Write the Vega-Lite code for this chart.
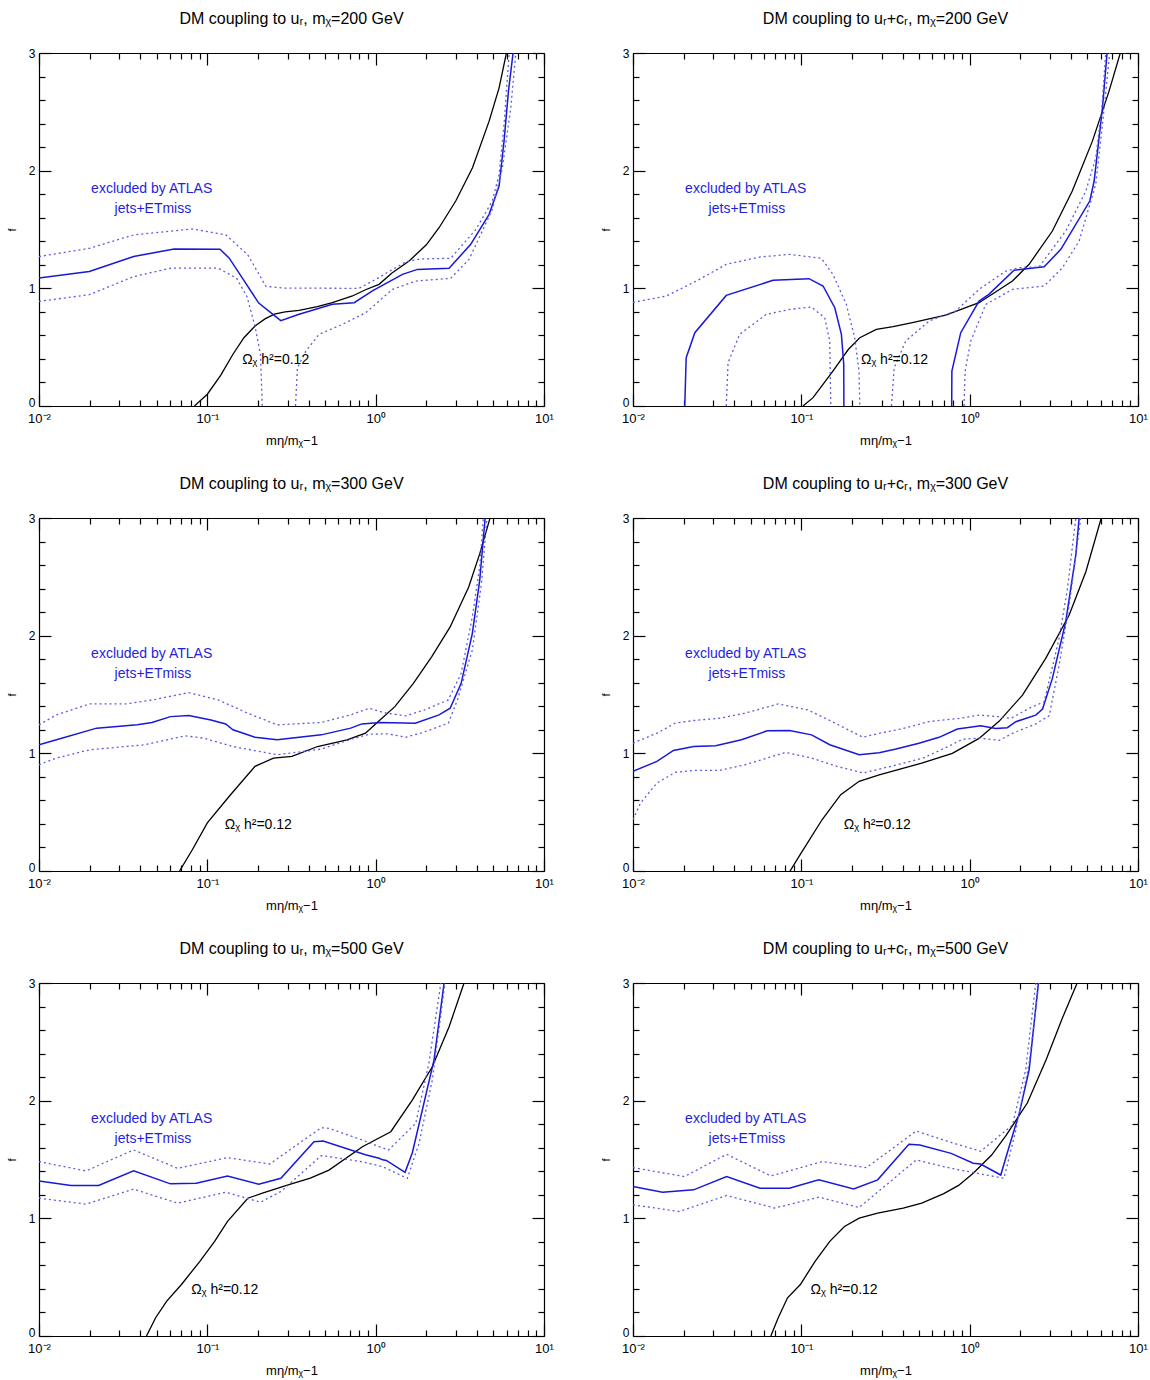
{
"$schema":"https://vega.github.io/schema/vega-lite/v6.json",
"background":"white",
"padding":{"left":6,"top":11,"right":5,"bottom":5},
"config":{"view":{"stroke":null},"font":"Liberation Sans",
"axis":{"grid":false,"tickColor":"#000","domainColor":"#000","labelColor":"#000","titleColor":"#000","tickWidth":1.2,"domainWidth":1.2,"labelFlush":false,"labelOverlap":false,"labelBound":false,"titleFontWeight":"normal","labelFont":"Liberation Sans","titleFont":"Liberation Sans"},
"title":{"fontSize":16,"fontWeight":"normal","font":"Liberation Sans","offset":20,"color":"#000","anchor":"middle"}},
"datasets":{
"t":[
{"k":"a","t":"excluded by ATLAS","x":0.0467,"f":1.843},
{"k":"a","t":"jets+ETmiss","x":0.0475,"f":1.674},
{"k":"w","p":1,"t":"Ωᵪ h²=0.12","x":0.161,"f":0.387},
{"k":"w","p":2,"t":"Ωᵪ h²=0.12","x":0.226,"f":0.387},
{"k":"w","p":3,"t":"Ωᵪ h²=0.12","x":0.127,"f":0.387},
{"k":"w","p":4,"t":"Ωᵪ h²=0.12","x":0.1786,"f":0.387},
{"k":"w","p":5,"t":"Ωᵪ h²=0.12","x":0.0803,"f":0.387},
{"k":"w","p":6,"t":"Ωᵪ h²=0.12","x":0.1135,"f":0.387}
],
"c":[
{"p":1,"k":"r","c":"r","x":0.0838,"f":0},{"p":1,"k":"r","c":"r","x":0.1,"f":0.1},{"p":1,"k":"r","c":"r","x":0.12,"f":0.26},{"p":1,"k":"r","c":"r","x":0.142,"f":0.44},{"p":1,"k":"r","c":"r","x":0.165,"f":0.58},{"p":1,"k":"r","c":"r","x":0.192,"f":0.68},{"p":1,"k":"r","c":"r","x":0.22,"f":0.74},{"p":1,"k":"r","c":"r","x":0.25,"f":0.78},{"p":1,"k":"r","c":"r","x":0.29,"f":0.8},{"p":1,"k":"r","c":"r","x":0.351,"f":0.813},{"p":1,"k":"r","c":"r","x":0.45,"f":0.845},{"p":1,"k":"r","c":"r","x":0.553,"f":0.878},{"p":1,"k":"r","c":"r","x":0.728,"f":0.935},{"p":1,"k":"r","c":"r","x":0.87,"f":0.988},{"p":1,"k":"r","c":"r","x":1.047,"f":1.034},{"p":1,"k":"r","c":"r","x":1.25,"f":1.13},{"p":1,"k":"r","c":"r","x":1.58,"f":1.232},{"p":1,"k":"r","c":"r","x":2.0,"f":1.37},{"p":1,"k":"r","c":"r","x":2.38,"f":1.515},{"p":1,"k":"r","c":"r","x":2.99,"f":1.742},{"p":1,"k":"r","c":"r","x":3.76,"f":2.025},{"p":1,"k":"r","c":"r","x":4.72,"f":2.421},{"p":1,"k":"r","c":"r","x":5.41,"f":2.704},{"p":1,"k":"r","c":"r","x":5.98,"f":3.0},
{"p":1,"k":"o","c":"o","x":0.01,"f":1.087},{"p":1,"k":"o","c":"o","x":0.0199,"f":1.143},{"p":1,"k":"o","c":"o","x":0.0365,"f":1.27},{"p":1,"k":"o","c":"o","x":0.0635,"f":1.335},{"p":1,"k":"o","c":"o","x":0.119,"f":1.332},{"p":1,"k":"o","c":"o","x":0.135,"f":1.256},{"p":1,"k":"o","c":"o","x":0.202,"f":0.875},{"p":1,"k":"o","c":"o","x":0.273,"f":0.725},{"p":1,"k":"o","c":"o","x":0.351,"f":0.779},{"p":1,"k":"o","c":"o","x":0.553,"f":0.864},{"p":1,"k":"o","c":"o","x":0.745,"f":0.878},{"p":1,"k":"o","c":"o","x":0.962,"f":0.98},{"p":1,"k":"o","c":"o","x":1.175,"f":1.048},{"p":1,"k":"o","c":"o","x":1.443,"f":1.119},{"p":1,"k":"o","c":"o","x":1.77,"f":1.161},{"p":1,"k":"o","c":"o","x":2.73,"f":1.17},{"p":1,"k":"o","c":"o","x":3.67,"f":1.374},{"p":1,"k":"o","c":"o","x":4.72,"f":1.629},{"p":1,"k":"o","c":"o","x":5.41,"f":1.869},{"p":1,"k":"o","c":"o","x":5.79,"f":2.251},{"p":1,"k":"o","c":"o","x":6.15,"f":2.676},{"p":1,"k":"o","c":"o","x":6.55,"f":3.0},
{"p":1,"k":"b","c":"u","x":0.01,"f":1.27},{"p":1,"k":"b","c":"u","x":0.0199,"f":1.34},{"p":1,"k":"b","c":"u","x":0.0365,"f":1.454},{"p":1,"k":"b","c":"u","x":0.0817,"f":1.504},{"p":1,"k":"b","c":"u","x":0.129,"f":1.454},{"p":1,"k":"b","c":"u","x":0.174,"f":1.284},{"p":1,"k":"b","c":"u","x":0.223,"f":1.016},{"p":1,"k":"b","c":"u","x":0.288,"f":1.002},{"p":1,"k":"b","c":"u","x":0.796,"f":1.0},{"p":1,"k":"b","c":"u","x":1.0,"f":1.076},{"p":1,"k":"b","c":"u","x":1.51,"f":1.226},{"p":1,"k":"b","c":"u","x":1.85,"f":1.25},{"p":1,"k":"b","c":"u","x":2.79,"f":1.255},{"p":1,"k":"b","c":"u","x":3.94,"f":1.501},{"p":1,"k":"b","c":"u","x":4.93,"f":1.742},{"p":1,"k":"b","c":"u","x":5.41,"f":1.968},{"p":1,"k":"b","c":"u","x":5.79,"f":2.393},{"p":1,"k":"b","c":"u","x":6.21,"f":3.0},
{"p":1,"k":"b","c":"l1","x":0.01,"f":0.889},{"p":1,"k":"b","c":"l1","x":0.0199,"f":0.946},{"p":1,"k":"b","c":"l1","x":0.0365,"f":1.1},{"p":1,"k":"b","c":"l1","x":0.0604,"f":1.171},{"p":1,"k":"b","c":"l1","x":0.116,"f":1.171},{"p":1,"k":"b","c":"l1","x":0.149,"f":1.087},{"p":1,"k":"b","c":"l1","x":0.172,"f":0.93},{"p":1,"k":"b","c":"l1","x":0.192,"f":0.677},{"p":1,"k":"b","c":"l1","x":0.207,"f":0.4375},{"p":1,"k":"b","c":"l1","x":0.212,"f":0},
{"p":1,"k":"b","c":"l2","x":0.334,"f":0},{"p":1,"k":"b","c":"l2","x":0.343,"f":0.325},{"p":1,"k":"b","c":"l2","x":0.385,"f":0.467},{"p":1,"k":"b","c":"l2","x":0.4615,"f":0.609},{"p":1,"k":"b","c":"l2","x":0.634,"f":0.694},{"p":1,"k":"b","c":"l2","x":0.873,"f":0.793},{"p":1,"k":"b","c":"l2","x":1.257,"f":0.991},{"p":1,"k":"b","c":"l2","x":1.73,"f":1.062},{"p":1,"k":"b","c":"l2","x":2.79,"f":1.085},{"p":1,"k":"b","c":"l2","x":3.59,"f":1.246},{"p":1,"k":"b","c":"l2","x":4.93,"f":1.671},{"p":1,"k":"b","c":"l2","x":5.66,"f":2.025},{"p":1,"k":"b","c":"l2","x":6.35,"f":2.534},{"p":1,"k":"b","c":"l2","x":6.8,"f":3.0},

{"p":2,"k":"r","c":"r","x":0.1023,"f":0},{"p":2,"k":"r","c":"r","x":0.1174,"f":0.071},{"p":2,"k":"r","c":"r","x":0.154,"f":0.297},{"p":2,"k":"r","c":"r","x":0.19,"f":0.48},{"p":2,"k":"r","c":"r","x":0.2225,"f":0.58},{"p":2,"k":"r","c":"r","x":0.279,"f":0.651},{"p":2,"k":"r","c":"r","x":0.351,"f":0.674},{"p":2,"k":"r","c":"r","x":0.457,"f":0.708},{"p":2,"k":"r","c":"r","x":0.721,"f":0.773},{"p":2,"k":"r","c":"r","x":1.137,"f":0.878},{"p":2,"k":"r","c":"r","x":1.795,"f":1.062},{"p":2,"k":"r","c":"r","x":2.255,"f":1.204},{"p":2,"k":"r","c":"r","x":3.1,"f":1.487},{"p":2,"k":"r","c":"r","x":4.07,"f":1.827},{"p":2,"k":"r","c":"r","x":5.36,"f":2.251},{"p":2,"k":"r","c":"r","x":6.73,"f":2.676},{"p":2,"k":"r","c":"r","x":7.85,"f":3.0},
{"p":2,"k":"o","c":"o1","x":0.0203,"f":0},{"p":2,"k":"o","c":"o1","x":0.0207,"f":0.41},{"p":2,"k":"o","c":"o1","x":0.0233,"f":0.623},{"p":2,"k":"o","c":"o1","x":0.0358,"f":0.94},{"p":2,"k":"o","c":"o1","x":0.0679,"f":1.068},{"p":2,"k":"o","c":"o1","x":0.111,"f":1.082},{"p":2,"k":"o","c":"o1","x":0.1346,"f":1.02},{"p":2,"k":"o","c":"o1","x":0.158,"f":0.835},{"p":2,"k":"o","c":"o1","x":0.173,"f":0.609},{"p":2,"k":"o","c":"o1","x":0.1786,"f":0.354},{"p":2,"k":"o","c":"o1","x":0.179,"f":0},
{"p":2,"k":"o","c":"o2","x":0.782,"f":0},{"p":2,"k":"o","c":"o2","x":0.784,"f":0.297},{"p":2,"k":"o","c":"o2","x":0.885,"f":0.623},{"p":2,"k":"o","c":"o2","x":1.137,"f":0.892},{"p":2,"k":"o","c":"o2","x":1.3,"f":0.949},{"p":2,"k":"o","c":"o2","x":1.835,"f":1.153},{"p":2,"k":"o","c":"o2","x":2.77,"f":1.184},{"p":2,"k":"o","c":"o2","x":3.48,"f":1.331},{"p":2,"k":"o","c":"o2","x":5.17,"f":1.742},{"p":2,"k":"o","c":"o2","x":5.49,"f":1.912},{"p":2,"k":"o","c":"o2","x":6.15,"f":2.535},{"p":2,"k":"o","c":"o2","x":6.55,"f":3.0},
{"p":2,"k":"b","c":"u1","x":0.01,"f":0.88},{"p":2,"k":"b","c":"u1","x":0.0158,"f":0.935},{"p":2,"k":"b","c":"u1","x":0.0238,"f":1.062},{"p":2,"k":"b","c":"u1","x":0.0358,"f":1.204},{"p":2,"k":"b","c":"u1","x":0.0566,"f":1.266},{"p":2,"k":"b","c":"u1","x":0.0853,"f":1.289},{"p":2,"k":"b","c":"u1","x":0.1315,"f":1.255},{"p":2,"k":"b","c":"u1","x":0.154,"f":1.119},{"p":2,"k":"b","c":"u1","x":0.185,"f":0.864},{"p":2,"k":"b","c":"u1","x":0.2075,"f":0.58},{"p":2,"k":"b","c":"u1","x":0.22,"f":0.297},{"p":2,"k":"b","c":"u1","x":0.2225,"f":0},
{"p":2,"k":"b","c":"l1","x":0.0358,"f":0},{"p":2,"k":"b","c":"l1","x":0.0367,"f":0.368},{"p":2,"k":"b","c":"l1","x":0.043,"f":0.609},{"p":2,"k":"b","c":"l1","x":0.062,"f":0.779},{"p":2,"k":"b","c":"l1","x":0.0853,"f":0.821},{"p":2,"k":"b","c":"l1","x":0.1146,"f":0.841},{"p":2,"k":"b","c":"l1","x":0.1377,"f":0.75},{"p":2,"k":"b","c":"l1","x":0.1475,"f":0.552},{"p":2,"k":"b","c":"l1","x":0.1496,"f":0},
{"p":2,"k":"b","c":"u2","x":0.343,"f":0},{"p":2,"k":"b","c":"u2","x":0.356,"f":0.326},{"p":2,"k":"b","c":"u2","x":0.417,"f":0.552},{"p":2,"k":"b","c":"u2","x":0.574,"f":0.722},{"p":2,"k":"b","c":"u2","x":0.826,"f":0.807},{"p":2,"k":"b","c":"u2","x":1.137,"f":0.991},{"p":2,"k":"b","c":"u2","x":1.64,"f":1.147},{"p":2,"k":"b","c":"u2","x":2.06,"f":1.181},{"p":2,"k":"b","c":"u2","x":2.58,"f":1.181},{"p":2,"k":"b","c":"u2","x":3.72,"f":1.487},{"p":2,"k":"b","c":"u2","x":4.9,"f":1.827},{"p":2,"k":"b","c":"u2","x":5.61,"f":2.11},{"p":2,"k":"b","c":"u2","x":6.1,"f":2.53},{"p":2,"k":"b","c":"u2","x":6.43,"f":3.0},
{"p":2,"k":"b","c":"l2","x":0.926,"f":0},{"p":2,"k":"b","c":"l2","x":0.94,"f":0.297},{"p":2,"k":"b","c":"l2","x":1.015,"f":0.552},{"p":2,"k":"b","c":"l2","x":1.247,"f":0.864},{"p":2,"k":"b","c":"l2","x":1.795,"f":0.991},{"p":2,"k":"b","c":"l2","x":2.77,"f":1.02},{"p":2,"k":"b","c":"l2","x":3.56,"f":1.175},{"p":2,"k":"b","c":"l2","x":4.47,"f":1.402},{"p":2,"k":"b","c":"l2","x":5.61,"f":1.884},{"p":2,"k":"b","c":"l2","x":6.15,"f":2.393},{"p":2,"k":"b","c":"l2","x":6.79,"f":3.0},

{"p":3,"k":"r","c":"r","x":0.0684,"f":0},{"p":3,"k":"r","c":"r","x":0.0816,"f":0.183},{"p":3,"k":"r","c":"r","x":0.1,"f":0.409},{"p":3,"k":"r","c":"r","x":0.135,"f":0.635},{"p":3,"k":"r","c":"r","x":0.192,"f":0.889},{"p":3,"k":"r","c":"r","x":0.247,"f":0.96},{"p":3,"k":"r","c":"r","x":0.318,"f":0.974},{"p":3,"k":"r","c":"r","x":0.452,"f":1.058},{"p":3,"k":"r","c":"r","x":0.676,"f":1.115},{"p":3,"k":"r","c":"r","x":0.87,"f":1.171},{"p":3,"k":"r","c":"r","x":1.01,"f":1.256},{"p":3,"k":"r","c":"r","x":1.3,"f":1.397},{"p":3,"k":"r","c":"r","x":1.675,"f":1.595},{"p":3,"k":"r","c":"r","x":2.15,"f":1.82},{"p":3,"k":"r","c":"r","x":2.77,"f":2.074},{"p":3,"k":"r","c":"r","x":3.57,"f":2.413},{"p":3,"k":"r","c":"r","x":4.15,"f":2.695},{"p":3,"k":"r","c":"r","x":4.78,"f":3.0},
{"p":3,"k":"o","c":"o","x":0.01,"f":1.073},{"p":3,"k":"o","c":"o","x":0.0127,"f":1.115},{"p":3,"k":"o","c":"o","x":0.022,"f":1.214},{"p":3,"k":"o","c":"o","x":0.0384,"f":1.242},{"p":3,"k":"o","c":"o","x":0.0469,"f":1.262},{"p":3,"k":"o","c":"o","x":0.0604,"f":1.312},{"p":3,"k":"o","c":"o","x":0.0776,"f":1.321},{"p":3,"k":"o","c":"o","x":0.105,"f":1.284},{"p":3,"k":"o","c":"o","x":0.1285,"f":1.25},{"p":3,"k":"o","c":"o","x":0.142,"f":1.2},{"p":3,"k":"o","c":"o","x":0.192,"f":1.137},{"p":3,"k":"o","c":"o","x":0.26,"f":1.115},{"p":3,"k":"o","c":"o","x":0.475,"f":1.157},{"p":3,"k":"o","c":"o","x":0.711,"f":1.214},{"p":3,"k":"o","c":"o","x":0.828,"f":1.25},{"p":3,"k":"o","c":"o","x":1.064,"f":1.262},{"p":3,"k":"o","c":"o","x":1.72,"f":1.256},{"p":3,"k":"o","c":"o","x":2.38,"f":1.327},{"p":3,"k":"o","c":"o","x":2.77,"f":1.383},{"p":3,"k":"o","c":"o","x":3.22,"f":1.595},{"p":3,"k":"o","c":"o","x":3.75,"f":2.018},{"p":3,"k":"o","c":"o","x":4.15,"f":2.47},{"p":3,"k":"o","c":"o","x":4.47,"f":3.0},
{"p":3,"k":"b","c":"u","x":0.01,"f":1.242},{"p":3,"k":"b","c":"u","x":0.0127,"f":1.327},{"p":3,"k":"b","c":"u","x":0.02,"f":1.42},{"p":3,"k":"b","c":"u","x":0.033,"f":1.42},{"p":3,"k":"b","c":"u","x":0.0493,"f":1.459},{"p":3,"k":"b","c":"u","x":0.0776,"f":1.516},{"p":3,"k":"b","c":"u","x":0.116,"f":1.454},{"p":3,"k":"b","c":"u","x":0.174,"f":1.341},{"p":3,"k":"b","c":"u","x":0.26,"f":1.242},{"p":3,"k":"b","c":"u","x":0.475,"f":1.262},{"p":3,"k":"b","c":"u","x":0.711,"f":1.327},{"p":3,"k":"b","c":"u","x":0.915,"f":1.383},{"p":3,"k":"b","c":"u","x":1.12,"f":1.346},{"p":3,"k":"b","c":"u","x":1.51,"f":1.318},{"p":3,"k":"b","c":"u","x":1.95,"f":1.369},{"p":3,"k":"b","c":"u","x":2.7,"f":1.454},{"p":3,"k":"b","c":"u","x":3.22,"f":1.679},{"p":3,"k":"b","c":"u","x":3.75,"f":2.159},{"p":3,"k":"b","c":"u","x":4.15,"f":2.583},{"p":3,"k":"b","c":"u","x":4.36,"f":3.0},
{"p":3,"k":"b","c":"l","x":0.01,"f":0.903},{"p":3,"k":"b","c":"l","x":0.0127,"f":0.96},{"p":3,"k":"b","c":"l","x":0.02,"f":1.03},{"p":3,"k":"b","c":"l","x":0.0425,"f":1.073},{"p":3,"k":"b","c":"l","x":0.0738,"f":1.149},{"p":3,"k":"b","c":"l","x":0.0949,"f":1.129},{"p":3,"k":"b","c":"l","x":0.142,"f":1.058},{"p":3,"k":"b","c":"l","x":0.26,"f":0.988},{"p":3,"k":"b","c":"l","x":0.475,"f":1.036},{"p":3,"k":"b","c":"l","x":0.676,"f":1.109},{"p":3,"k":"b","c":"l","x":0.915,"f":1.163},{"p":3,"k":"b","c":"l","x":1.18,"f":1.166},{"p":3,"k":"b","c":"l","x":1.51,"f":1.137},{"p":3,"k":"b","c":"l","x":1.85,"f":1.171},{"p":3,"k":"b","c":"l","x":2.7,"f":1.256},{"p":3,"k":"b","c":"l","x":3.06,"f":1.454},{"p":3,"k":"b","c":"l","x":3.75,"f":1.877},{"p":3,"k":"b","c":"l","x":4.25,"f":2.441},{"p":3,"k":"b","c":"l","x":4.58,"f":3.0},

{"p":4,"k":"r","c":"r","x":0.0857,"f":0},{"p":4,"k":"r","c":"r","x":0.0986,"f":0.141},{"p":4,"k":"r","c":"r","x":0.133,"f":0.4375},{"p":4,"k":"r","c":"r","x":0.1714,"f":0.649},{"p":4,"k":"r","c":"r","x":0.2206,"f":0.762},{"p":4,"k":"r","c":"r","x":0.29,"f":0.816},{"p":4,"k":"r","c":"r","x":0.519,"f":0.917},{"p":4,"k":"r","c":"r","x":0.789,"f":1.0},{"p":4,"k":"r","c":"r","x":1.137,"f":1.127},{"p":4,"k":"r","c":"r","x":1.5,"f":1.274},{"p":4,"k":"r","c":"r","x":2.06,"f":1.495},{"p":4,"k":"r","c":"r","x":2.83,"f":1.807},{"p":4,"k":"r","c":"r","x":3.9,"f":2.175},{"p":4,"k":"r","c":"r","x":4.9,"f":2.543},{"p":4,"k":"r","c":"r","x":6.05,"f":3.0},
{"p":4,"k":"o","c":"o","x":0.01,"f":0.847},{"p":4,"k":"o","c":"o","x":0.01387,"f":0.931},{"p":4,"k":"o","c":"o","x":0.0174,"f":1.025},{"p":4,"k":"o","c":"o","x":0.0229,"f":1.058},{"p":4,"k":"o","c":"o","x":0.031,"f":1.064},{"p":4,"k":"o","c":"o","x":0.0441,"f":1.115},{"p":4,"k":"o","c":"o","x":0.0627,"f":1.191},{"p":4,"k":"o","c":"o","x":0.0849,"f":1.194},{"p":4,"k":"o","c":"o","x":0.115,"f":1.157},{"p":4,"k":"o","c":"o","x":0.1476,"f":1.073},{"p":4,"k":"o","c":"o","x":0.2206,"f":0.988},{"p":4,"k":"o","c":"o","x":0.29,"f":1.005},{"p":4,"k":"o","c":"o","x":0.365,"f":1.036},{"p":4,"k":"o","c":"o","x":0.5,"f":1.085},{"p":4,"k":"o","c":"o","x":0.658,"f":1.136},{"p":4,"k":"o","c":"o","x":0.845,"f":1.206},{"p":4,"k":"o","c":"o","x":1.164,"f":1.235},{"p":4,"k":"o","c":"o","x":1.43,"f":1.212},{"p":4,"k":"o","c":"o","x":1.675,"f":1.218},{"p":4,"k":"o","c":"o","x":1.88,"f":1.269},{"p":4,"k":"o","c":"o","x":2.47,"f":1.325},{"p":4,"k":"o","c":"o","x":2.71,"f":1.376},{"p":4,"k":"o","c":"o","x":3.1,"f":1.637},{"p":4,"k":"o","c":"o","x":3.72,"f":2.118},{"p":4,"k":"o","c":"o","x":4.27,"f":2.685},{"p":4,"k":"o","c":"o","x":4.47,"f":3.0},
{"p":4,"k":"b","c":"u","x":0.01,"f":1.087},{"p":4,"k":"b","c":"u","x":0.01387,"f":1.171},{"p":4,"k":"b","c":"u","x":0.0178,"f":1.256},{"p":4,"k":"b","c":"u","x":0.0229,"f":1.279},{"p":4,"k":"b","c":"u","x":0.0326,"f":1.298},{"p":4,"k":"b","c":"u","x":0.0463,"f":1.341},{"p":4,"k":"b","c":"u","x":0.0729,"f":1.42},{"p":4,"k":"b","c":"u","x":0.109,"f":1.369},{"p":4,"k":"b","c":"u","x":0.1476,"f":1.279},{"p":4,"k":"b","c":"u","x":0.232,"f":1.137},{"p":4,"k":"b","c":"u","x":0.29,"f":1.17},{"p":4,"k":"b","c":"u","x":0.4,"f":1.21},{"p":4,"k":"b","c":"u","x":0.574,"f":1.27},{"p":4,"k":"b","c":"u","x":0.865,"f":1.297},{"p":4,"k":"b","c":"u","x":1.137,"f":1.325},{"p":4,"k":"b","c":"u","x":1.5,"f":1.311},{"p":4,"k":"b","c":"u","x":1.755,"f":1.297},{"p":4,"k":"b","c":"u","x":2.25,"f":1.382},{"p":4,"k":"b","c":"u","x":2.77,"f":1.438},{"p":4,"k":"b","c":"u","x":3.4,"f":1.977},{"p":4,"k":"b","c":"u","x":3.81,"f":2.4},{"p":4,"k":"b","c":"u","x":4.27,"f":3.0},
{"p":4,"k":"b","c":"l","x":0.01,"f":0.4375},{"p":4,"k":"b","c":"l","x":0.0111,"f":0.579},{"p":4,"k":"b","c":"l","x":0.01387,"f":0.748},{"p":4,"k":"b","c":"l","x":0.0178,"f":0.838},{"p":4,"k":"b","c":"l","x":0.0229,"f":0.855},{"p":4,"k":"b","c":"l","x":0.0326,"f":0.855},{"p":4,"k":"b","c":"l","x":0.0463,"f":0.903},{"p":4,"k":"b","c":"l","x":0.0807,"f":1.008},{"p":4,"k":"b","c":"l","x":0.115,"f":0.96},{"p":4,"k":"b","c":"l","x":0.163,"f":0.889},{"p":4,"k":"b","c":"l","x":0.232,"f":0.833},{"p":4,"k":"b","c":"l","x":0.29,"f":0.865},{"p":4,"k":"b","c":"l","x":0.524,"f":0.957},{"p":4,"k":"b","c":"l","x":0.75,"f":1.06},{"p":4,"k":"b","c":"l","x":0.906,"f":1.12},{"p":4,"k":"b","c":"l","x":1.137,"f":1.13},{"p":4,"k":"b","c":"l","x":1.5,"f":1.11},{"p":4,"k":"b","c":"l","x":1.795,"f":1.17},{"p":4,"k":"b","c":"l","x":2.47,"f":1.25},{"p":4,"k":"b","c":"l","x":2.97,"f":1.32},{"p":4,"k":"b","c":"l","x":3.4,"f":1.75},{"p":4,"k":"b","c":"l","x":3.9,"f":2.26},{"p":4,"k":"b","c":"l","x":4.57,"f":3.0},

{"p":5,"k":"r","c":"r","x":0.0435,"f":0},{"p":5,"k":"r","c":"r","x":0.0493,"f":0.155},{"p":5,"k":"r","c":"r","x":0.0574,"f":0.296},{"p":5,"k":"r","c":"r","x":0.0702,"f":0.4375},{"p":5,"k":"r","c":"r","x":0.0903,"f":0.635},{"p":5,"k":"r","c":"r","x":0.1105,"f":0.804},{"p":5,"k":"r","c":"r","x":0.1318,"f":0.974},{"p":5,"k":"r","c":"r","x":0.174,"f":1.171},{"p":5,"k":"r","c":"r","x":0.2125,"f":1.214},{"p":5,"k":"r","c":"r","x":0.302,"f":1.284},{"p":5,"k":"r","c":"r","x":0.409,"f":1.341},{"p":5,"k":"r","c":"r","x":0.528,"f":1.41},{"p":5,"k":"r","c":"r","x":0.834,"f":1.608},{"p":5,"k":"r","c":"r","x":1.23,"f":1.736},{"p":5,"k":"r","c":"r","x":1.65,"f":2.005},{"p":5,"k":"r","c":"r","x":2.17,"f":2.288},{"p":5,"k":"r","c":"r","x":2.73,"f":2.628},{"p":5,"k":"r","c":"r","x":3.35,"f":3.0},
{"p":5,"k":"o","c":"o","x":0.01,"f":1.318},{"p":5,"k":"o","c":"o","x":0.0155,"f":1.279},{"p":5,"k":"o","c":"o","x":0.0226,"f":1.279},{"p":5,"k":"o","c":"o","x":0.0365,"f":1.403},{"p":5,"k":"o","c":"o","x":0.0604,"f":1.293},{"p":5,"k":"o","c":"o","x":0.0859,"f":1.298},{"p":5,"k":"o","c":"o","x":0.1318,"f":1.36},{"p":5,"k":"o","c":"o","x":0.202,"f":1.29},{"p":5,"k":"o","c":"o","x":0.2735,"f":1.341},{"p":5,"k":"o","c":"o","x":0.43,"f":1.651},{"p":5,"k":"o","c":"o","x":0.4875,"f":1.657},{"p":5,"k":"o","c":"o","x":0.87,"f":1.54},{"p":5,"k":"o","c":"o","x":1.048,"f":1.51},{"p":5,"k":"o","c":"o","x":1.1,"f":1.497},{"p":5,"k":"o","c":"o","x":1.158,"f":1.492},{"p":5,"k":"o","c":"o","x":1.495,"f":1.391},{"p":5,"k":"o","c":"o","x":1.652,"f":1.557},{"p":5,"k":"o","c":"o","x":2.22,"f":2.345},{"p":5,"k":"o","c":"o","x":2.55,"f":3.0},
{"p":5,"k":"b","c":"u","x":0.01,"f":1.482},{"p":5,"k":"b","c":"u","x":0.019,"f":1.403},{"p":5,"k":"b","c":"u","x":0.0365,"f":1.581},{"p":5,"k":"b","c":"u","x":0.0667,"f":1.425},{"p":5,"k":"b","c":"u","x":0.1318,"f":1.516},{"p":5,"k":"b","c":"u","x":0.235,"f":1.462},{"p":5,"k":"b","c":"u","x":0.475,"f":1.77},{"p":5,"k":"b","c":"u","x":0.528,"f":1.765},{"p":5,"k":"b","c":"u","x":0.834,"f":1.665},{"p":5,"k":"b","c":"u","x":1.19,"f":1.58},{"p":5,"k":"b","c":"u","x":1.73,"f":1.807},{"p":5,"k":"b","c":"u","x":2.07,"f":2.317},{"p":5,"k":"b","c":"u","x":2.44,"f":3.0},
{"p":5,"k":"b","c":"l","x":0.01,"f":1.171},{"p":5,"k":"b","c":"l","x":0.019,"f":1.121},{"p":5,"k":"b","c":"l","x":0.0365,"f":1.248},{"p":5,"k":"b","c":"l","x":0.0667,"f":1.129},{"p":5,"k":"b","c":"l","x":0.1285,"f":1.222},{"p":5,"k":"b","c":"l","x":0.207,"f":1.137},{"p":5,"k":"b","c":"l","x":0.2735,"f":1.228},{"p":5,"k":"b","c":"l","x":0.475,"f":1.533},{"p":5,"k":"b","c":"l","x":0.528,"f":1.525},{"p":5,"k":"b","c":"l","x":0.834,"f":1.48},{"p":5,"k":"b","c":"l","x":1.096,"f":1.44},{"p":5,"k":"b","c":"l","x":1.542,"f":1.34},{"p":5,"k":"b","c":"l","x":1.81,"f":1.637},{"p":5,"k":"b","c":"l","x":2.17,"f":2.175},{"p":5,"k":"b","c":"l","x":2.58,"f":3.0},

{"p":6,"k":"r","c":"r","x":0.0659,"f":0},{"p":6,"k":"r","c":"r","x":0.0729,"f":0.155},{"p":6,"k":"r","c":"r","x":0.0828,"f":0.325},{"p":6,"k":"r","c":"r","x":0.0987,"f":0.4375},{"p":6,"k":"r","c":"r","x":0.1207,"f":0.635},{"p":6,"k":"r","c":"r","x":0.1476,"f":0.804},{"p":6,"k":"r","c":"r","x":0.1804,"f":0.931},{"p":6,"k":"r","c":"r","x":0.2206,"f":1.002},{"p":6,"k":"r","c":"r","x":0.284,"f":1.044},{"p":6,"k":"r","c":"r","x":0.403,"f":1.087},{"p":6,"k":"r","c":"r","x":0.519,"f":1.13},{"p":6,"k":"r","c":"r","x":0.702,"f":1.21},{"p":6,"k":"r","c":"r","x":0.859,"f":1.28},{"p":6,"k":"r","c":"r","x":1.05,"f":1.383},{"p":6,"k":"r","c":"r","x":1.35,"f":1.538},{"p":6,"k":"r","c":"r","x":1.65,"f":1.707},{"p":6,"k":"r","c":"r","x":2.2,"f":1.98},{"p":6,"k":"r","c":"r","x":2.85,"f":2.35},{"p":6,"k":"r","c":"r","x":3.55,"f":2.7},{"p":6,"k":"r","c":"r","x":4.35,"f":3.0},
{"p":6,"k":"o","c":"o","x":0.01,"f":1.27},{"p":6,"k":"o","c":"o","x":0.01496,"f":1.222},{"p":6,"k":"o","c":"o","x":0.0229,"f":1.242},{"p":6,"k":"o","c":"o","x":0.036,"f":1.355},{"p":6,"k":"o","c":"o","x":0.0568,"f":1.256},{"p":6,"k":"o","c":"o","x":0.0849,"f":1.256},{"p":6,"k":"o","c":"o","x":0.127,"f":1.327},{"p":6,"k":"o","c":"o","x":0.2046,"f":1.25},{"p":6,"k":"o","c":"o","x":0.284,"f":1.327},{"p":6,"k":"o","c":"o","x":0.4355,"f":1.629},{"p":6,"k":"o","c":"o","x":0.506,"f":1.623},{"p":6,"k":"o","c":"o","x":0.776,"f":1.552},{"p":6,"k":"o","c":"o","x":1.05,"f":1.468},{"p":6,"k":"o","c":"o","x":1.16,"f":1.462},{"p":6,"k":"o","c":"o","x":1.53,"f":1.368},{"p":6,"k":"o","c":"o","x":1.715,"f":1.608},{"p":6,"k":"o","c":"o","x":1.97,"f":1.892},{"p":6,"k":"o","c":"o","x":2.255,"f":2.26},{"p":6,"k":"o","c":"o","x":2.56,"f":3.0},
{"p":6,"k":"b","c":"u","x":0.01,"f":1.431},{"p":6,"k":"b","c":"u","x":0.0202,"f":1.355},{"p":6,"k":"b","c":"u","x":0.036,"f":1.544},{"p":6,"k":"b","c":"u","x":0.0659,"f":1.36},{"p":6,"k":"b","c":"u","x":0.133,"f":1.482},{"p":6,"k":"b","c":"u","x":0.244,"f":1.431},{"p":6,"k":"b","c":"u","x":0.481,"f":1.742},{"p":6,"k":"b","c":"u","x":0.776,"f":1.645},{"p":6,"k":"b","c":"u","x":1.164,"f":1.57},{"p":6,"k":"b","c":"u","x":1.795,"f":1.793},{"p":6,"k":"b","c":"u","x":2.15,"f":2.26},{"p":6,"k":"b","c":"u","x":2.47,"f":3.0},
{"p":6,"k":"b","c":"l","x":0.01,"f":1.115},{"p":6,"k":"b","c":"l","x":0.0188,"f":1.058},{"p":6,"k":"b","c":"l","x":0.036,"f":1.194},{"p":6,"k":"b","c":"l","x":0.0694,"f":1.087},{"p":6,"k":"b","c":"l","x":0.127,"f":1.18},{"p":6,"k":"b","c":"l","x":0.2206,"f":1.092},{"p":6,"k":"b","c":"l","x":0.481,"f":1.496},{"p":6,"k":"b","c":"l","x":0.776,"f":1.425},{"p":6,"k":"b","c":"l","x":1.137,"f":1.38},{"p":6,"k":"b","c":"l","x":1.6,"f":1.34},{"p":6,"k":"b","c":"l","x":1.88,"f":1.75},{"p":6,"k":"b","c":"l","x":2.255,"f":2.317},{"p":6,"k":"b","c":"l","x":2.58,"f":3.0}
]},
"columns":2,
"spacing":{"row":112,"column":89},
"bounds":"flush",
"concat":[
{"width":505,"height":353,"title":"DM coupling to uᵣ, mᵪ=200 GeV",
"layer":[
{"data":{"name":"c"},"transform":[{"filter":"datum.p==1 && datum.k=='r'"}],"mark":{"type":"line","color":"#000","strokeWidth":1.3,"clip":true},"encoding":{"x":{"field":"x","type":"quantitative","scale":{"type":"log","domain":[0.01,10],"nice":false},"axis":{"orient":"bottom","values":[0.01,0.1,1,10],"labelExpr":"datum.value<0.05?'10⁻²':datum.value<0.5?'10⁻¹':datum.value<5?'10⁰':'10¹'","ticks":false,"labelFontSize":13,"labelPadding":6,"title":"mη/mᵪ−1","titleFontSize":13,"titlePadding":9}},"y":{"field":"f","type":"quantitative","scale":{"domain":[0,3],"nice":false,"zero":false},"axis":{"orient":"left","values":[0,1,2,3],"format":"d","ticks":false,"labelFontSize":12,"labelPadding":4,"labelBaseline":{"condition":{"test":"datum.value==0","value":"alphabetic"},"value":"middle"},"title":"f","titleFontSize":11,"titlePadding":11}},"detail":{"field":"c"}}},
{"data":{"name":"c"},"transform":[{"filter":"datum.p==1 && datum.k=='o'"}],"mark":{"type":"line","color":"#1818d8","strokeWidth":1.5,"clip":true},"encoding":{"x":{"field":"x","type":"quantitative","scale":{"type":"log","domain":[0.01,10],"nice":false},"axis":{"orient":"bottom","values":[0.01,0.1,1,10],"labels":false,"domain":false,"tickSize":-12,"title":null}},"y":{"field":"f","type":"quantitative","scale":{"domain":[0,3],"nice":false,"zero":false},"axis":{"orient":"left","values":[0,1,2,3],"labels":false,"domain":false,"tickSize":-12,"title":null}},"detail":{"field":"c"}}},
{"data":{"name":"c"},"transform":[{"filter":"datum.p==1 && datum.k=='b'"}],"mark":{"type":"line","color":"#5c5ce0","strokeWidth":1.3,"strokeDash":[2,3],"clip":true},"encoding":{"x":{"field":"x","type":"quantitative","scale":{"type":"log","domain":[0.01,10],"nice":false},"axis":{"orient":"bottom","values":[0.02,0.03,0.04,0.05,0.06,0.07,0.08,0.09,0.2,0.3,0.4,0.5,0.6,0.7,0.8,0.9,2,3,4,5,6,7,8,9],"labels":false,"domain":false,"tickSize":-6,"title":null}},"y":{"field":"f","type":"quantitative","scale":{"domain":[0,3],"nice":false,"zero":false},"axis":{"orient":"left","values":[0.2,0.4,0.6,0.8,1.2,1.4,1.6,1.8,2.2,2.4,2.6,2.8],"labels":false,"domain":false,"tickSize":-6,"title":null}},"detail":{"field":"c"}}},
{"data":{"name":"t"},"transform":[{"filter":"datum.k=='a'"}],"mark":{"type":"text","color":"#1f1fdc","fontSize":14,"align":"center","baseline":"middle"},"encoding":{"x":{"field":"x","type":"quantitative","scale":{"type":"log","domain":[0.01,10],"nice":false},"axis":{"orient":"top","values":[0.01,0.1,1,10],"labels":false,"tickSize":-12,"title":null}},"y":{"field":"f","type":"quantitative","scale":{"domain":[0,3],"nice":false,"zero":false},"axis":{"orient":"right","values":[0,1,2,3],"labels":false,"tickSize":-12,"title":null}},"text":{"field":"t"}}},
{"data":{"name":"t"},"transform":[{"filter":"datum.k=='w' && datum.p==1"}],"mark":{"type":"text","color":"#000","fontSize":14,"align":"left","baseline":"middle"},"encoding":{"x":{"field":"x","type":"quantitative","scale":{"type":"log","domain":[0.01,10],"nice":false},"axis":{"orient":"top","values":[0.02,0.03,0.04,0.05,0.06,0.07,0.08,0.09,0.2,0.3,0.4,0.5,0.6,0.7,0.8,0.9,2,3,4,5,6,7,8,9],"labels":false,"domain":false,"tickSize":-6,"title":null}},"y":{"field":"f","type":"quantitative","scale":{"domain":[0,3],"nice":false,"zero":false},"axis":{"orient":"right","values":[0.2,0.4,0.6,0.8,1.2,1.4,1.6,1.8,2.2,2.4,2.6,2.8],"labels":false,"domain":false,"tickSize":-6,"title":null}},"text":{"field":"t"}}}
],
"resolve":{"axis":{"x":"independent","y":"independent"}}},
{"width":505,"height":353,"title":"DM coupling to uᵣ+cᵣ, mᵪ=200 GeV",
"layer":[
{"data":{"name":"c"},"transform":[{"filter":"datum.p==2 && datum.k=='r'"}],"mark":{"type":"line","color":"#000","strokeWidth":1.3,"clip":true},"encoding":{"x":{"field":"x","type":"quantitative","scale":{"type":"log","domain":[0.01,10],"nice":false},"axis":{"orient":"bottom","values":[0.01,0.1,1,10],"labelExpr":"datum.value<0.05?'10⁻²':datum.value<0.5?'10⁻¹':datum.value<5?'10⁰':'10¹'","ticks":false,"labelFontSize":13,"labelPadding":6,"title":"mη/mᵪ−1","titleFontSize":13,"titlePadding":9}},"y":{"field":"f","type":"quantitative","scale":{"domain":[0,3],"nice":false,"zero":false},"axis":{"orient":"left","values":[0,1,2,3],"format":"d","ticks":false,"labelFontSize":12,"labelPadding":4,"labelBaseline":{"condition":{"test":"datum.value==0","value":"alphabetic"},"value":"middle"},"title":"f","titleFontSize":11,"titlePadding":11}},"detail":{"field":"c"}}},
{"data":{"name":"c"},"transform":[{"filter":"datum.p==2 && datum.k=='o'"}],"mark":{"type":"line","color":"#1818d8","strokeWidth":1.5,"clip":true},"encoding":{"x":{"field":"x","type":"quantitative","scale":{"type":"log","domain":[0.01,10],"nice":false},"axis":{"orient":"bottom","values":[0.01,0.1,1,10],"labels":false,"domain":false,"tickSize":-12,"title":null}},"y":{"field":"f","type":"quantitative","scale":{"domain":[0,3],"nice":false,"zero":false},"axis":{"orient":"left","values":[0,1,2,3],"labels":false,"domain":false,"tickSize":-12,"title":null}},"detail":{"field":"c"}}},
{"data":{"name":"c"},"transform":[{"filter":"datum.p==2 && datum.k=='b'"}],"mark":{"type":"line","color":"#5c5ce0","strokeWidth":1.3,"strokeDash":[2,3],"clip":true},"encoding":{"x":{"field":"x","type":"quantitative","scale":{"type":"log","domain":[0.01,10],"nice":false},"axis":{"orient":"bottom","values":[0.02,0.03,0.04,0.05,0.06,0.07,0.08,0.09,0.2,0.3,0.4,0.5,0.6,0.7,0.8,0.9,2,3,4,5,6,7,8,9],"labels":false,"domain":false,"tickSize":-6,"title":null}},"y":{"field":"f","type":"quantitative","scale":{"domain":[0,3],"nice":false,"zero":false},"axis":{"orient":"left","values":[0.2,0.4,0.6,0.8,1.2,1.4,1.6,1.8,2.2,2.4,2.6,2.8],"labels":false,"domain":false,"tickSize":-6,"title":null}},"detail":{"field":"c"}}},
{"data":{"name":"t"},"transform":[{"filter":"datum.k=='a'"}],"mark":{"type":"text","color":"#1f1fdc","fontSize":14,"align":"center","baseline":"middle"},"encoding":{"x":{"field":"x","type":"quantitative","scale":{"type":"log","domain":[0.01,10],"nice":false},"axis":{"orient":"top","values":[0.01,0.1,1,10],"labels":false,"tickSize":-12,"title":null}},"y":{"field":"f","type":"quantitative","scale":{"domain":[0,3],"nice":false,"zero":false},"axis":{"orient":"right","values":[0,1,2,3],"labels":false,"tickSize":-12,"title":null}},"text":{"field":"t"}}},
{"data":{"name":"t"},"transform":[{"filter":"datum.k=='w' && datum.p==2"}],"mark":{"type":"text","color":"#000","fontSize":14,"align":"left","baseline":"middle"},"encoding":{"x":{"field":"x","type":"quantitative","scale":{"type":"log","domain":[0.01,10],"nice":false},"axis":{"orient":"top","values":[0.02,0.03,0.04,0.05,0.06,0.07,0.08,0.09,0.2,0.3,0.4,0.5,0.6,0.7,0.8,0.9,2,3,4,5,6,7,8,9],"labels":false,"domain":false,"tickSize":-6,"title":null}},"y":{"field":"f","type":"quantitative","scale":{"domain":[0,3],"nice":false,"zero":false},"axis":{"orient":"right","values":[0.2,0.4,0.6,0.8,1.2,1.4,1.6,1.8,2.2,2.4,2.6,2.8],"labels":false,"domain":false,"tickSize":-6,"title":null}},"text":{"field":"t"}}}
],
"resolve":{"axis":{"x":"independent","y":"independent"}}},
{"width":505,"height":353,"title":"DM coupling to uᵣ, mᵪ=300 GeV",
"layer":[
{"data":{"name":"c"},"transform":[{"filter":"datum.p==3 && datum.k=='r'"}],"mark":{"type":"line","color":"#000","strokeWidth":1.3,"clip":true},"encoding":{"x":{"field":"x","type":"quantitative","scale":{"type":"log","domain":[0.01,10],"nice":false},"axis":{"orient":"bottom","values":[0.01,0.1,1,10],"labelExpr":"datum.value<0.05?'10⁻²':datum.value<0.5?'10⁻¹':datum.value<5?'10⁰':'10¹'","ticks":false,"labelFontSize":13,"labelPadding":6,"title":"mη/mᵪ−1","titleFontSize":13,"titlePadding":9}},"y":{"field":"f","type":"quantitative","scale":{"domain":[0,3],"nice":false,"zero":false},"axis":{"orient":"left","values":[0,1,2,3],"format":"d","ticks":false,"labelFontSize":12,"labelPadding":4,"labelBaseline":{"condition":{"test":"datum.value==0","value":"alphabetic"},"value":"middle"},"title":"f","titleFontSize":11,"titlePadding":11}},"detail":{"field":"c"}}},
{"data":{"name":"c"},"transform":[{"filter":"datum.p==3 && datum.k=='o'"}],"mark":{"type":"line","color":"#1818d8","strokeWidth":1.5,"clip":true},"encoding":{"x":{"field":"x","type":"quantitative","scale":{"type":"log","domain":[0.01,10],"nice":false},"axis":{"orient":"bottom","values":[0.01,0.1,1,10],"labels":false,"domain":false,"tickSize":-12,"title":null}},"y":{"field":"f","type":"quantitative","scale":{"domain":[0,3],"nice":false,"zero":false},"axis":{"orient":"left","values":[0,1,2,3],"labels":false,"domain":false,"tickSize":-12,"title":null}},"detail":{"field":"c"}}},
{"data":{"name":"c"},"transform":[{"filter":"datum.p==3 && datum.k=='b'"}],"mark":{"type":"line","color":"#5c5ce0","strokeWidth":1.3,"strokeDash":[2,3],"clip":true},"encoding":{"x":{"field":"x","type":"quantitative","scale":{"type":"log","domain":[0.01,10],"nice":false},"axis":{"orient":"bottom","values":[0.02,0.03,0.04,0.05,0.06,0.07,0.08,0.09,0.2,0.3,0.4,0.5,0.6,0.7,0.8,0.9,2,3,4,5,6,7,8,9],"labels":false,"domain":false,"tickSize":-6,"title":null}},"y":{"field":"f","type":"quantitative","scale":{"domain":[0,3],"nice":false,"zero":false},"axis":{"orient":"left","values":[0.2,0.4,0.6,0.8,1.2,1.4,1.6,1.8,2.2,2.4,2.6,2.8],"labels":false,"domain":false,"tickSize":-6,"title":null}},"detail":{"field":"c"}}},
{"data":{"name":"t"},"transform":[{"filter":"datum.k=='a'"}],"mark":{"type":"text","color":"#1f1fdc","fontSize":14,"align":"center","baseline":"middle"},"encoding":{"x":{"field":"x","type":"quantitative","scale":{"type":"log","domain":[0.01,10],"nice":false},"axis":{"orient":"top","values":[0.01,0.1,1,10],"labels":false,"tickSize":-12,"title":null}},"y":{"field":"f","type":"quantitative","scale":{"domain":[0,3],"nice":false,"zero":false},"axis":{"orient":"right","values":[0,1,2,3],"labels":false,"tickSize":-12,"title":null}},"text":{"field":"t"}}},
{"data":{"name":"t"},"transform":[{"filter":"datum.k=='w' && datum.p==3"}],"mark":{"type":"text","color":"#000","fontSize":14,"align":"left","baseline":"middle"},"encoding":{"x":{"field":"x","type":"quantitative","scale":{"type":"log","domain":[0.01,10],"nice":false},"axis":{"orient":"top","values":[0.02,0.03,0.04,0.05,0.06,0.07,0.08,0.09,0.2,0.3,0.4,0.5,0.6,0.7,0.8,0.9,2,3,4,5,6,7,8,9],"labels":false,"domain":false,"tickSize":-6,"title":null}},"y":{"field":"f","type":"quantitative","scale":{"domain":[0,3],"nice":false,"zero":false},"axis":{"orient":"right","values":[0.2,0.4,0.6,0.8,1.2,1.4,1.6,1.8,2.2,2.4,2.6,2.8],"labels":false,"domain":false,"tickSize":-6,"title":null}},"text":{"field":"t"}}}
],
"resolve":{"axis":{"x":"independent","y":"independent"}}},
{"width":505,"height":353,"title":"DM coupling to uᵣ+cᵣ, mᵪ=300 GeV",
"layer":[
{"data":{"name":"c"},"transform":[{"filter":"datum.p==4 && datum.k=='r'"}],"mark":{"type":"line","color":"#000","strokeWidth":1.3,"clip":true},"encoding":{"x":{"field":"x","type":"quantitative","scale":{"type":"log","domain":[0.01,10],"nice":false},"axis":{"orient":"bottom","values":[0.01,0.1,1,10],"labelExpr":"datum.value<0.05?'10⁻²':datum.value<0.5?'10⁻¹':datum.value<5?'10⁰':'10¹'","ticks":false,"labelFontSize":13,"labelPadding":6,"title":"mη/mᵪ−1","titleFontSize":13,"titlePadding":9}},"y":{"field":"f","type":"quantitative","scale":{"domain":[0,3],"nice":false,"zero":false},"axis":{"orient":"left","values":[0,1,2,3],"format":"d","ticks":false,"labelFontSize":12,"labelPadding":4,"labelBaseline":{"condition":{"test":"datum.value==0","value":"alphabetic"},"value":"middle"},"title":"f","titleFontSize":11,"titlePadding":11}},"detail":{"field":"c"}}},
{"data":{"name":"c"},"transform":[{"filter":"datum.p==4 && datum.k=='o'"}],"mark":{"type":"line","color":"#1818d8","strokeWidth":1.5,"clip":true},"encoding":{"x":{"field":"x","type":"quantitative","scale":{"type":"log","domain":[0.01,10],"nice":false},"axis":{"orient":"bottom","values":[0.01,0.1,1,10],"labels":false,"domain":false,"tickSize":-12,"title":null}},"y":{"field":"f","type":"quantitative","scale":{"domain":[0,3],"nice":false,"zero":false},"axis":{"orient":"left","values":[0,1,2,3],"labels":false,"domain":false,"tickSize":-12,"title":null}},"detail":{"field":"c"}}},
{"data":{"name":"c"},"transform":[{"filter":"datum.p==4 && datum.k=='b'"}],"mark":{"type":"line","color":"#5c5ce0","strokeWidth":1.3,"strokeDash":[2,3],"clip":true},"encoding":{"x":{"field":"x","type":"quantitative","scale":{"type":"log","domain":[0.01,10],"nice":false},"axis":{"orient":"bottom","values":[0.02,0.03,0.04,0.05,0.06,0.07,0.08,0.09,0.2,0.3,0.4,0.5,0.6,0.7,0.8,0.9,2,3,4,5,6,7,8,9],"labels":false,"domain":false,"tickSize":-6,"title":null}},"y":{"field":"f","type":"quantitative","scale":{"domain":[0,3],"nice":false,"zero":false},"axis":{"orient":"left","values":[0.2,0.4,0.6,0.8,1.2,1.4,1.6,1.8,2.2,2.4,2.6,2.8],"labels":false,"domain":false,"tickSize":-6,"title":null}},"detail":{"field":"c"}}},
{"data":{"name":"t"},"transform":[{"filter":"datum.k=='a'"}],"mark":{"type":"text","color":"#1f1fdc","fontSize":14,"align":"center","baseline":"middle"},"encoding":{"x":{"field":"x","type":"quantitative","scale":{"type":"log","domain":[0.01,10],"nice":false},"axis":{"orient":"top","values":[0.01,0.1,1,10],"labels":false,"tickSize":-12,"title":null}},"y":{"field":"f","type":"quantitative","scale":{"domain":[0,3],"nice":false,"zero":false},"axis":{"orient":"right","values":[0,1,2,3],"labels":false,"tickSize":-12,"title":null}},"text":{"field":"t"}}},
{"data":{"name":"t"},"transform":[{"filter":"datum.k=='w' && datum.p==4"}],"mark":{"type":"text","color":"#000","fontSize":14,"align":"left","baseline":"middle"},"encoding":{"x":{"field":"x","type":"quantitative","scale":{"type":"log","domain":[0.01,10],"nice":false},"axis":{"orient":"top","values":[0.02,0.03,0.04,0.05,0.06,0.07,0.08,0.09,0.2,0.3,0.4,0.5,0.6,0.7,0.8,0.9,2,3,4,5,6,7,8,9],"labels":false,"domain":false,"tickSize":-6,"title":null}},"y":{"field":"f","type":"quantitative","scale":{"domain":[0,3],"nice":false,"zero":false},"axis":{"orient":"right","values":[0.2,0.4,0.6,0.8,1.2,1.4,1.6,1.8,2.2,2.4,2.6,2.8],"labels":false,"domain":false,"tickSize":-6,"title":null}},"text":{"field":"t"}}}
],
"resolve":{"axis":{"x":"independent","y":"independent"}}},
{"width":505,"height":353,"title":"DM coupling to uᵣ, mᵪ=500 GeV",
"layer":[
{"data":{"name":"c"},"transform":[{"filter":"datum.p==5 && datum.k=='r'"}],"mark":{"type":"line","color":"#000","strokeWidth":1.3,"clip":true},"encoding":{"x":{"field":"x","type":"quantitative","scale":{"type":"log","domain":[0.01,10],"nice":false},"axis":{"orient":"bottom","values":[0.01,0.1,1,10],"labelExpr":"datum.value<0.05?'10⁻²':datum.value<0.5?'10⁻¹':datum.value<5?'10⁰':'10¹'","ticks":false,"labelFontSize":13,"labelPadding":6,"title":"mη/mᵪ−1","titleFontSize":13,"titlePadding":9}},"y":{"field":"f","type":"quantitative","scale":{"domain":[0,3],"nice":false,"zero":false},"axis":{"orient":"left","values":[0,1,2,3],"format":"d","ticks":false,"labelFontSize":12,"labelPadding":4,"labelBaseline":{"condition":{"test":"datum.value==0","value":"alphabetic"},"value":"middle"},"title":"f","titleFontSize":11,"titlePadding":11}},"detail":{"field":"c"}}},
{"data":{"name":"c"},"transform":[{"filter":"datum.p==5 && datum.k=='o'"}],"mark":{"type":"line","color":"#1818d8","strokeWidth":1.5,"clip":true},"encoding":{"x":{"field":"x","type":"quantitative","scale":{"type":"log","domain":[0.01,10],"nice":false},"axis":{"orient":"bottom","values":[0.01,0.1,1,10],"labels":false,"domain":false,"tickSize":-12,"title":null}},"y":{"field":"f","type":"quantitative","scale":{"domain":[0,3],"nice":false,"zero":false},"axis":{"orient":"left","values":[0,1,2,3],"labels":false,"domain":false,"tickSize":-12,"title":null}},"detail":{"field":"c"}}},
{"data":{"name":"c"},"transform":[{"filter":"datum.p==5 && datum.k=='b'"}],"mark":{"type":"line","color":"#5c5ce0","strokeWidth":1.3,"strokeDash":[2,3],"clip":true},"encoding":{"x":{"field":"x","type":"quantitative","scale":{"type":"log","domain":[0.01,10],"nice":false},"axis":{"orient":"bottom","values":[0.02,0.03,0.04,0.05,0.06,0.07,0.08,0.09,0.2,0.3,0.4,0.5,0.6,0.7,0.8,0.9,2,3,4,5,6,7,8,9],"labels":false,"domain":false,"tickSize":-6,"title":null}},"y":{"field":"f","type":"quantitative","scale":{"domain":[0,3],"nice":false,"zero":false},"axis":{"orient":"left","values":[0.2,0.4,0.6,0.8,1.2,1.4,1.6,1.8,2.2,2.4,2.6,2.8],"labels":false,"domain":false,"tickSize":-6,"title":null}},"detail":{"field":"c"}}},
{"data":{"name":"t"},"transform":[{"filter":"datum.k=='a'"}],"mark":{"type":"text","color":"#1f1fdc","fontSize":14,"align":"center","baseline":"middle"},"encoding":{"x":{"field":"x","type":"quantitative","scale":{"type":"log","domain":[0.01,10],"nice":false},"axis":{"orient":"top","values":[0.01,0.1,1,10],"labels":false,"tickSize":-12,"title":null}},"y":{"field":"f","type":"quantitative","scale":{"domain":[0,3],"nice":false,"zero":false},"axis":{"orient":"right","values":[0,1,2,3],"labels":false,"tickSize":-12,"title":null}},"text":{"field":"t"}}},
{"data":{"name":"t"},"transform":[{"filter":"datum.k=='w' && datum.p==5"}],"mark":{"type":"text","color":"#000","fontSize":14,"align":"left","baseline":"middle"},"encoding":{"x":{"field":"x","type":"quantitative","scale":{"type":"log","domain":[0.01,10],"nice":false},"axis":{"orient":"top","values":[0.02,0.03,0.04,0.05,0.06,0.07,0.08,0.09,0.2,0.3,0.4,0.5,0.6,0.7,0.8,0.9,2,3,4,5,6,7,8,9],"labels":false,"domain":false,"tickSize":-6,"title":null}},"y":{"field":"f","type":"quantitative","scale":{"domain":[0,3],"nice":false,"zero":false},"axis":{"orient":"right","values":[0.2,0.4,0.6,0.8,1.2,1.4,1.6,1.8,2.2,2.4,2.6,2.8],"labels":false,"domain":false,"tickSize":-6,"title":null}},"text":{"field":"t"}}}
],
"resolve":{"axis":{"x":"independent","y":"independent"}}},
{"width":505,"height":353,"title":"DM coupling to uᵣ+cᵣ, mᵪ=500 GeV",
"layer":[
{"data":{"name":"c"},"transform":[{"filter":"datum.p==6 && datum.k=='r'"}],"mark":{"type":"line","color":"#000","strokeWidth":1.3,"clip":true},"encoding":{"x":{"field":"x","type":"quantitative","scale":{"type":"log","domain":[0.01,10],"nice":false},"axis":{"orient":"bottom","values":[0.01,0.1,1,10],"labelExpr":"datum.value<0.05?'10⁻²':datum.value<0.5?'10⁻¹':datum.value<5?'10⁰':'10¹'","ticks":false,"labelFontSize":13,"labelPadding":6,"title":"mη/mᵪ−1","titleFontSize":13,"titlePadding":9}},"y":{"field":"f","type":"quantitative","scale":{"domain":[0,3],"nice":false,"zero":false},"axis":{"orient":"left","values":[0,1,2,3],"format":"d","ticks":false,"labelFontSize":12,"labelPadding":4,"labelBaseline":{"condition":{"test":"datum.value==0","value":"alphabetic"},"value":"middle"},"title":"f","titleFontSize":11,"titlePadding":11}},"detail":{"field":"c"}}},
{"data":{"name":"c"},"transform":[{"filter":"datum.p==6 && datum.k=='o'"}],"mark":{"type":"line","color":"#1818d8","strokeWidth":1.5,"clip":true},"encoding":{"x":{"field":"x","type":"quantitative","scale":{"type":"log","domain":[0.01,10],"nice":false},"axis":{"orient":"bottom","values":[0.01,0.1,1,10],"labels":false,"domain":false,"tickSize":-12,"title":null}},"y":{"field":"f","type":"quantitative","scale":{"domain":[0,3],"nice":false,"zero":false},"axis":{"orient":"left","values":[0,1,2,3],"labels":false,"domain":false,"tickSize":-12,"title":null}},"detail":{"field":"c"}}},
{"data":{"name":"c"},"transform":[{"filter":"datum.p==6 && datum.k=='b'"}],"mark":{"type":"line","color":"#5c5ce0","strokeWidth":1.3,"strokeDash":[2,3],"clip":true},"encoding":{"x":{"field":"x","type":"quantitative","scale":{"type":"log","domain":[0.01,10],"nice":false},"axis":{"orient":"bottom","values":[0.02,0.03,0.04,0.05,0.06,0.07,0.08,0.09,0.2,0.3,0.4,0.5,0.6,0.7,0.8,0.9,2,3,4,5,6,7,8,9],"labels":false,"domain":false,"tickSize":-6,"title":null}},"y":{"field":"f","type":"quantitative","scale":{"domain":[0,3],"nice":false,"zero":false},"axis":{"orient":"left","values":[0.2,0.4,0.6,0.8,1.2,1.4,1.6,1.8,2.2,2.4,2.6,2.8],"labels":false,"domain":false,"tickSize":-6,"title":null}},"detail":{"field":"c"}}},
{"data":{"name":"t"},"transform":[{"filter":"datum.k=='a'"}],"mark":{"type":"text","color":"#1f1fdc","fontSize":14,"align":"center","baseline":"middle"},"encoding":{"x":{"field":"x","type":"quantitative","scale":{"type":"log","domain":[0.01,10],"nice":false},"axis":{"orient":"top","values":[0.01,0.1,1,10],"labels":false,"tickSize":-12,"title":null}},"y":{"field":"f","type":"quantitative","scale":{"domain":[0,3],"nice":false,"zero":false},"axis":{"orient":"right","values":[0,1,2,3],"labels":false,"tickSize":-12,"title":null}},"text":{"field":"t"}}},
{"data":{"name":"t"},"transform":[{"filter":"datum.k=='w' && datum.p==6"}],"mark":{"type":"text","color":"#000","fontSize":14,"align":"left","baseline":"middle"},"encoding":{"x":{"field":"x","type":"quantitative","scale":{"type":"log","domain":[0.01,10],"nice":false},"axis":{"orient":"top","values":[0.02,0.03,0.04,0.05,0.06,0.07,0.08,0.09,0.2,0.3,0.4,0.5,0.6,0.7,0.8,0.9,2,3,4,5,6,7,8,9],"labels":false,"domain":false,"tickSize":-6,"title":null}},"y":{"field":"f","type":"quantitative","scale":{"domain":[0,3],"nice":false,"zero":false},"axis":{"orient":"right","values":[0.2,0.4,0.6,0.8,1.2,1.4,1.6,1.8,2.2,2.4,2.6,2.8],"labels":false,"domain":false,"tickSize":-6,"title":null}},"text":{"field":"t"}}}
],
"resolve":{"axis":{"x":"independent","y":"independent"}}}
]
}
